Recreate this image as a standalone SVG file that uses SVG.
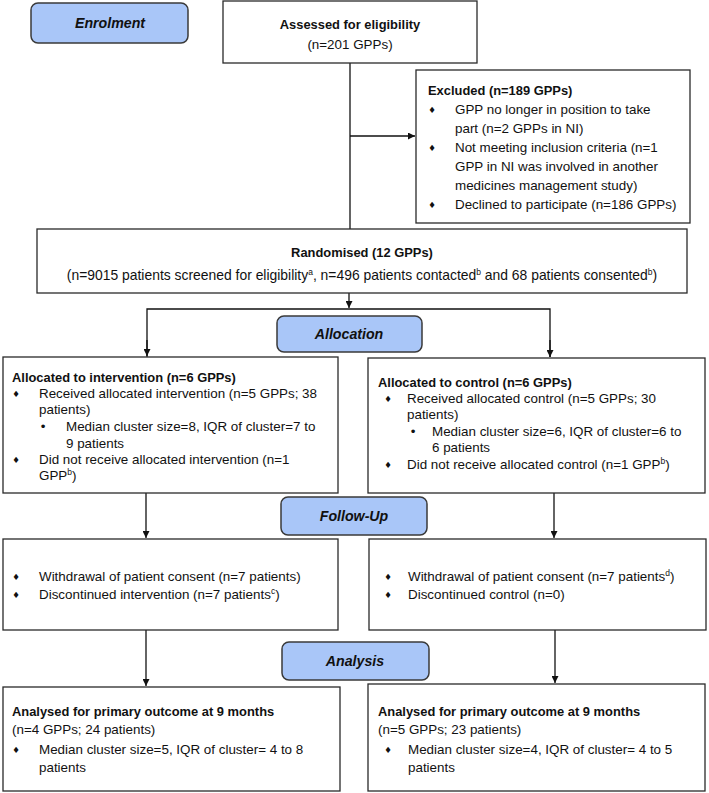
<svg xmlns="http://www.w3.org/2000/svg" width="709" height="793" viewBox="0 0 709 793">
<defs>
<style>
.box{fill:#fff;stroke:#2a2a2a;stroke-width:1.3}
.phase{fill:#a9c6f8;stroke:#3a3a3a;stroke-width:1.5}
.t{font-family:"Liberation Sans",Arial,sans-serif;font-size:13.4px;fill:#111}
.b{font-family:"Liberation Sans",Arial,sans-serif;font-size:12.9px;font-weight:bold;fill:#111}
.ph{font-family:"Liberation Sans",Arial,sans-serif;font-size:14.2px;font-weight:bold;font-style:italic;fill:#111;text-anchor:middle}
.c{text-anchor:middle}
.d{font-family:"DejaVu Sans",sans-serif;font-size:8.5px;fill:#111;text-anchor:middle}
.dot{font-family:"Liberation Sans",Arial,sans-serif;font-size:13.4px;fill:#111;text-anchor:middle}
.sup{font-size:8.5px}
.ln{fill:none;stroke:#111;stroke-width:1.3}
</style>
<marker id="ah" viewBox="0 0 10 10" refX="10" refY="5" markerWidth="7" markerHeight="7" markerUnits="userSpaceOnUse" orient="auto">
<path d="M0,0 L10,5 L0,10 z" fill="#111"/>
</marker>
</defs>

<g id="connectors">
<path class="ln" d="M350,63 V229"/>
<path class="ln" d="M350,136 H415" marker-end="url(#ah)"/>
<path class="ln" d="M349,293 V308" marker-end="url(#ah)"/>
<path class="ln" d="M147,357 V309 H550 V357" />
<path class="ln" d="M147,340 V356" marker-end="url(#ah)"/>
<path class="ln" d="M550,340 V357" marker-end="url(#ah)"/>
<path class="ln" d="M146,493 V538" marker-end="url(#ah)"/>
<path class="ln" d="M554,493 V538" marker-end="url(#ah)"/>
<path class="ln" d="M146,630 V686" marker-end="url(#ah)"/>
<path class="ln" d="M555,630 V683" marker-end="url(#ah)"/>
</g>

<g id="enrolment">
<rect class="phase" x="31" y="3" width="157" height="40" rx="7"/>
<text class="ph" x="110" y="28">Enrolment</text>
</g>

<g id="assessed">
<rect class="box" x="223" y="1" width="254" height="62"/>
<text class="b c" x="350" y="29">Assessed for eligibility</text>
<text class="t c" x="350" y="49">(n=201 GPPs)</text>
</g>

<g id="excluded">
<rect class="box" x="416" y="70" width="274" height="153"/>
<text class="b" x="428" y="95">Excluded (n=189 GPPs)</text>
<text class="d" x="432" y="113">♦</text>
<text class="t" x="455" y="114">GPP no longer in position to take</text>
<text class="t" x="455" y="133">part (n=2 GPPs in NI)</text>
<text class="d" x="432" y="151">♦</text>
<text class="t" x="455" y="152">Not meeting inclusion criteria (n=1</text>
<text class="t" x="455" y="171">GPP in NI was involved in another</text>
<text class="t" x="455" y="190">medicines management study)</text>
<text class="d" x="432" y="208">♦</text>
<text class="t" x="455" y="209">Declined to participate (n=186 GPPs)</text>
</g>

<g id="randomised">
<rect class="box" x="37" y="229" width="650" height="64"/>
<text class="b c" x="362" y="257">Randomised (12 GPPs)</text>
<text class="t c" x="362" y="280" style="font-size:13.9px">(n=9015 patients screened for eligibility<tspan class="sup" dy="-5">a</tspan><tspan dy="5">, n=496 patients contacted</tspan><tspan class="sup" dy="-5">b</tspan><tspan dy="5"> and 68 patients consented</tspan><tspan class="sup" dy="-5">b</tspan><tspan dy="5">)</tspan></text>
</g>

<g id="allocation">
<rect class="phase" x="277" y="316" width="145" height="36" rx="7"/>
<text class="ph" x="349" y="339">Allocation</text>
</g>

<g id="alloc-intervention">
<rect class="box" x="3" y="357" width="335" height="136"/>
<text class="b" x="12" y="382">Allocated to intervention (n=6 GPPs)</text>
<text class="d" x="16" y="397">♦</text>
<text class="t" x="39" y="398">Received allocated intervention (n=5 GPPs; 38</text>
<text class="t" x="39" y="414">patients)</text>
<text class="dot" x="43" y="431">•</text>
<text class="t" x="66" y="431">Median cluster size=8, IQR of cluster=7 to</text>
<text class="t" x="66" y="448">9 patients</text>
<text class="d" x="16" y="463">♦</text>
<text class="t" x="39" y="464">Did not receive allocated intervention (n=1</text>
<text class="t" x="39" y="480">GPP<tspan class="sup" dy="-5">b</tspan><tspan dy="5">)</tspan></text>
</g>

<g id="alloc-control">
<rect class="box" x="368" y="358" width="337" height="135"/>
<text class="b" x="378" y="387">Allocated to control (n=6 GPPs)</text>
<text class="d" x="388" y="402">♦</text>
<text class="t" x="407" y="403">Received allocated control (n=5 GPPs; 30</text>
<text class="t" x="407" y="419">patients)</text>
<text class="dot" x="413" y="436">•</text>
<text class="t" x="432" y="436">Median cluster size=6, IQR of cluster=6 to</text>
<text class="t" x="432" y="452">6 patients</text>
<text class="d" x="388" y="468">♦</text>
<text class="t" x="407" y="469">Did not receive allocated control (n=1 GPP<tspan class="sup" dy="-5">b</tspan><tspan dy="5">)</tspan></text>
</g>

<g id="follow-up">
<rect class="phase" x="281" y="497" width="146" height="38" rx="7"/>
<text class="ph" x="354" y="521">Follow-Up</text>
</g>

<g id="followup-intervention">
<rect class="box" x="3" y="539" width="335" height="91"/>
<text class="d" x="16" y="580">♦</text>
<text class="t" x="39" y="581">Withdrawal of patient consent (n=7 patients)</text>
<text class="d" x="16" y="598">♦</text>
<text class="t" x="39" y="599">Discontinued intervention (n=7 patients<tspan class="sup" dy="-5">c</tspan><tspan dy="5">)</tspan></text>
</g>

<g id="followup-control">
<rect class="box" x="369" y="539" width="337" height="91"/>
<text class="d" x="388" y="580">♦</text>
<text class="t" x="408" y="581">Withdrawal of patient consent (n=7 patients<tspan class="sup" dy="-5">d</tspan><tspan dy="5">)</tspan></text>
<text class="d" x="388" y="598">♦</text>
<text class="t" x="408" y="599">Discontinued control (n=0)</text>
</g>

<g id="analysis">
<rect class="phase" x="282" y="642" width="147" height="38" rx="7"/>
<text class="ph" x="355" y="666">Analysis</text>
</g>

<g id="analysis-intervention">
<rect class="box" x="3" y="687" width="337" height="104"/>
<text class="b" x="12" y="716">Analysed for primary outcome at 9 months</text>
<text class="t" x="12" y="734">(n=4 GPPs; 24 patients)</text>
<text class="d" x="16" y="753">♦</text>
<text class="t" x="39" y="754">Median cluster size=5, IQR of cluster= 4 to 8</text>
<text class="t" x="39" y="772">patients</text>
</g>

<g id="analysis-control">
<rect class="box" x="368" y="684" width="337" height="107"/>
<text class="b" x="378" y="716">Analysed for primary outcome at 9 months</text>
<text class="t" x="378" y="734">(n=5 GPPs; 23 patients)</text>
<text class="d" x="388" y="753">♦</text>
<text class="t" x="408" y="754">Median cluster size=4, IQR of cluster= 4 to 5</text>
<text class="t" x="408" y="772">patients</text>
</g>
</svg>
